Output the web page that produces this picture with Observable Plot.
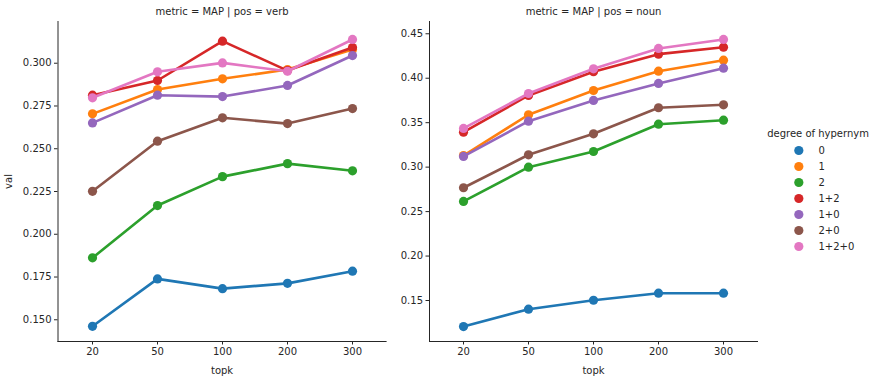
<!DOCTYPE html>
<html>
<head>
<meta charset="utf-8">
<script src="https://cdn.jsdelivr.net/npm/d3@7"></script>
<script src="https://cdn.jsdelivr.net/npm/@observablehq/plot@0.6"></script>
<style>
  html, body { margin: 0; padding: 0; background: #fff; }
  #chart { position: relative; width: 881px; height: 377px; font-family: "DejaVu Sans", sans-serif; }
  #chart > div { position: absolute; }
  svg { overflow: visible; }
</style>
</head>
<body>
<div id="chart">
  <div id="left" style="left:0px;top:0px"></div>
  <div id="right" style="left:380px;top:0px"></div>
  <div id="legend" style="left:760px;top:120px"></div>
</div>
<script>
const topk = ["20", "50", "100", "200", "300"];
const degrees = ["0", "1", "2", "1+2", "1+0", "2+0", "1+2+0"];
const colors = ["#1f77b4", "#ff7f0e", "#2ca02c", "#d62728", "#9467bd", "#8c564b", "#e377c2"];

// pos = verb
const verb0    = [0.1462, 0.1739, 0.1682, 0.1713, 0.1784];
const verb1    = [0.2704, 0.2846, 0.2909, 0.2963, 0.3080];
const verb2    = [0.1862, 0.2168, 0.2337, 0.2413, 0.2371];
const verb12   = [0.2813, 0.2899, 0.3129, 0.2957, 0.3092];
const verb10   = [0.2651, 0.2813, 0.2805, 0.2870, 0.3045];
const verb20   = [0.2251, 0.2544, 0.2681, 0.2647, 0.2735];
const verb120  = [0.2798, 0.2950, 0.3002, 0.2953, 0.3139];

// pos = noun
const noun0    = [0.1207, 0.1402, 0.1503, 0.1582, 0.1582];
const noun1    = [0.3131, 0.3589, 0.3862, 0.4079, 0.4203];
const noun2    = [0.2614, 0.3000, 0.3176, 0.3483, 0.3528];
const noun12   = [0.3393, 0.3806, 0.4073, 0.4271, 0.4349];
const noun10   = [0.3120, 0.3517, 0.3750, 0.3941, 0.4113];
const noun20   = [0.2768, 0.3139, 0.3375, 0.3668, 0.3701];
const noun120  = [0.3435, 0.3828, 0.4106, 0.4335, 0.4436];

const verbTicks = [0.150, 0.175, 0.200, 0.225, 0.250, 0.275, 0.300];
const nounTicks = [0.15, 0.20, 0.25, 0.30, 0.35, 0.40, 0.45];

function toRows(seriesList) {
  return degrees.flatMap((d, i) => topk.map((k, j) => ({degree: d, topk: k, val: seriesList[i][j]})));
}
const verbRows = toRows([verb0, verb1, verb2, verb12, verb10, verb20, verb120]);
const nounRows = toRows([noun0, noun1, noun2, noun12, noun10, noun20, noun120]);

const ink = "#262626";
const font = "DejaVu Sans, sans-serif";

function panel({rows, title, width, marginLeft, marginRight, yDomain, yTicks, yFormat, yLabel}) {
  const marks = [];
  degrees.forEach((d) => {
    const sub = rows.filter(r => r.degree === d);
    marks.push(Plot.line(sub, {x: "topk", y: "val", stroke: "degree", strokeWidth: 2.6}));
    marks.push(Plot.dot(sub, {x: "topk", y: "val", fill: "degree", r: 4.6}));
  });
  return Plot.plot({
    width, height: 377,
    marginLeft, marginRight, marginTop: 21, marginBottom: 36,
    style: {fontFamily: font, fontSize: "10px", color: ink, background: "transparent"},
    x: {type: "point", domain: topk, padding: 0.5},
    y: {domain: yDomain},
    color: {domain: degrees, range: colors},
    marks: [
      Plot.frame({anchor: "left", stroke: ink, strokeWidth: 1}),
      Plot.frame({anchor: "bottom", stroke: ink, strokeWidth: 1}),
      Plot.axisX({tickSize: 3.5, tickPadding: 3, fontSize: 10, label: "topk", labelAnchor: "center", labelOffset: 32, labelArrow: "none", stroke: ink, fill: ink}),
      Plot.axisY({ticks: yTicks, tickFormat: yFormat, tickSize: 3.5, tickPadding: 3, fontSize: 10,
        label: yLabel, labelAnchor: "center", labelOffset: 53, labelArrow: "none", stroke: ink, fill: ink}),
      ...marks,
      Plot.text([title], {frameAnchor: "top", dy: -14, fontSize: 10, fill: ink})
    ]
  });
}

document.getElementById("left").append(panel({
  rows: verbRows, title: "metric = MAP | pos = verb", width: 400,
  marginLeft: 57.5, marginRight: 14.4,
  yDomain: [0.1373, 0.3244], yTicks: verbTicks, yFormat: d3.format(".3f"), yLabel: "val"
}));
document.getElementById("right").append(panel({
  rows: nounRows, title: "metric = MAP | pos = noun", width: 390,
  marginLeft: 49, marginRight: 13,
  yDomain: [0.1039, 0.4638], yTicks: nounTicks, yFormat: d3.format(".2f"), yLabel: null
}));

// legend
const legendRows = degrees.map(d => ({degree: d}));
document.getElementById("legend").append(Plot.plot({
  width: 121, height: 135,
  marginLeft: 0, marginRight: 0, marginTop: 30, marginBottom: 9,
  style: {fontFamily: font, fontSize: "10px", color: ink, background: "transparent"},
  x: {axis: null},
  y: {type: "point", domain: degrees, padding: 0, axis: null},
  color: {domain: degrees, range: colors},
  marks: [
    Plot.dot(legendRows, {y: "degree", fill: "degree", r: 4.6, frameAnchor: "left", dx: 38.3}),
    Plot.text(legendRows, {y: "degree", text: "degree", frameAnchor: "left", dx: 58, textAnchor: "start", fontSize: 10, fill: ink}),
    Plot.text(["degree of hypernym"], {frameAnchor: "top-left", dx: 6.7, dy: -21, textAnchor: "start", fontSize: 10, fill: ink})
  ]
}));
</script>
</body>
</html>
